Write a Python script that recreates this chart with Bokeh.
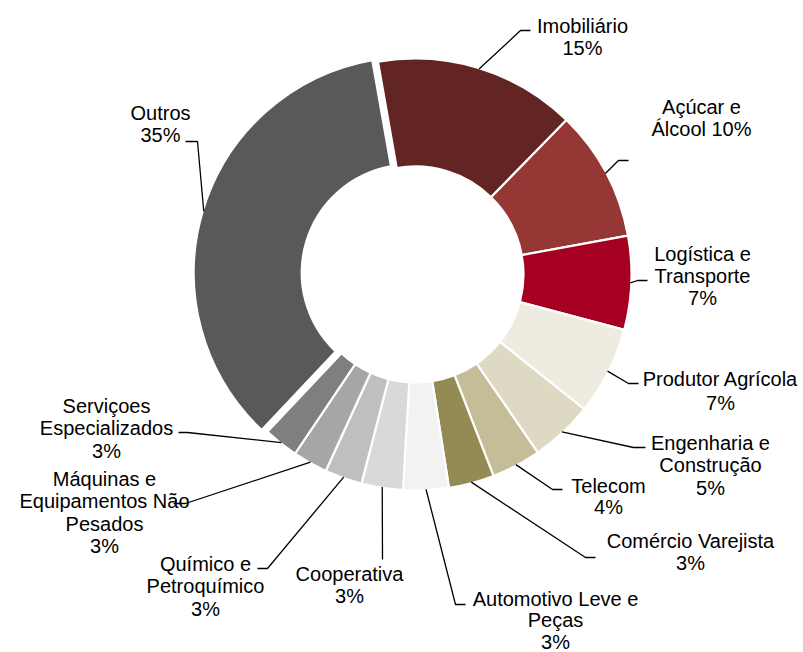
import math
from bokeh.plotting import figure
from bokeh.models import Range1d, ColumnDataSource
from bokeh.core.properties import value
from bokeh.embed import file_html
from bokeh.resources import INLINE

# ---------------- data ----------------
categories = [
    "Imobiliário",
    "Açúcar e\nÁlcool",
    "Logística e\nTransporte",
    "Produtor Agrícola",
    "Engenharia e\nConstrução",
    "Telecom",
    "Comércio Varejista",
    "Automotivo Leve e\nPeças",
    "Cooperativa",
    "Químico e\nPetroquímico",
    "Máquinas e\nEquipamentos Não\nPesados",
    "Serviçoes\nEspecializados",
    "Outros",
]
shares = [15.1, 9.8, 7.0, 6.6, 4.7, 3.7, 3.4, 3.4, 3.1, 2.8, 2.6, 2.6, 35.2]

# ---------------- style / layout ----------------
colors = ["#632523", "#953735", "#A50021", "#EEECE1", "#DDD9C3", "#C4BD97",
          "#948A54", "#F2F2F2", "#D9D9D9", "#BFBFBF", "#A6A6A6", "#7F7F7F",
          "#595959"]
explode = [0, 0, 0, 0, 0, 0, 0, 0, 0, 0, 0, 0, 6]
pct_inline = [False, True, False, False, False, False, False, False, False,
              False, False, False, False]
label_x = [582, 701, 702, 720, 710, 608, 690, 555, 349, 205, 104, 106, 160]
label_y0 = [25, 106, 253, 378, 442, 485, 540, 598, 573, 563, 478, 405, 112]
label_lh = [22, 22, 22, 24, 22.5, 21, 22, 21.5, 22, 22.5, 22.5, 22.5, 22]
elbow_x = [520, 618, 637, 628, 633, 552, 585, 455, 382, 267, 185, 187, 197]
elbow_y = [30, 160, 280, 383, 447, 489, 557, 604, 559, 568, 503, 432, 141]
tail_dx = [10, 10, 10, 10, 12, 10, 10, 10, 0, -10, -12, -9, -12]

CX, CY = 415, 274          # page pixels
R_OUT, R_IN = 216, 108
START = -10.0              # degrees clockwise from 12 o'clock
FONT = "Liberation Sans"
FS = "20px"

W, H = 803, 652

p = figure(width=W, height=H, output_backend="svg", toolbar_location=None,
           x_range=Range1d(0, W), y_range=Range1d(-H, 0),
           x_axis_location=None, y_axis_location=None, min_border=0)
p.grid.visible = False
p.outline_line_color = None
p.background_fill_color = "white"
p.border_fill_color = "white"

total = sum(shares)
xs_w, ys_w, starts, ends = [], [], [], []
mids = []
cum = 0.0
for s, ex in zip(shares, explode):
    a0 = START + 360.0 * cum / total
    cum += s
    a1 = START + 360.0 * cum / total
    am = (a0 + a1) / 2.0
    mids.append(am)
    ox = ex * math.sin(math.radians(am))
    oy = ex * math.cos(math.radians(am))
    xs_w.append(CX + ox)
    ys_w.append(-CY + oy)
    starts.append(math.radians(90 - a1))
    ends.append(math.radians(90 - a0))

wsrc = ColumnDataSource(dict(x=xs_w, y=ys_w, start=starts, end=ends,
                             color=colors, name=categories, share=shares))
p.annular_wedge(x="x", y="y", inner_radius=R_IN, outer_radius=R_OUT,
                start_angle="start", end_angle="end", fill_color="color",
                line_color="white", line_width=2.2, source=wsrc)

# leader lines
lxs, lys = [], []
for i, am in enumerate(mids):
    sx = xs_w[i] + (R_OUT - 1) * math.sin(math.radians(am))
    sy = ys_w[i] + (R_OUT - 1) * math.cos(math.radians(am))
    ex_, ey_ = elbow_x[i], -elbow_y[i]
    xs_l = [sx, ex_]
    ys_l = [sy, ey_]
    if tail_dx[i] != 0:
        xs_l.append(ex_ + tail_dx[i])
        ys_l.append(ey_)
    lxs.append(xs_l)
    lys.append(ys_l)
p.multi_line(xs=lxs, ys=lys, line_color="black", line_width=1.3)

# labels
tx, ty, tt = [], [], []
for i, name in enumerate(categories):
    pct = f"{round(shares[i])}%"
    lines = name.split("\n")
    if pct_inline[i]:
        lines[-1] = lines[-1] + " " + pct
    else:
        lines.append(pct)
    for k, ln in enumerate(lines):
        tx.append(label_x[i])
        ty.append(-(label_y0[i] + k * label_lh[i]))
        tt.append(ln)
tsrc = ColumnDataSource(dict(x=tx, y=ty, text=tt))
p.text(x="x", y="y", text="text", source=tsrc, text_align="center",
       text_baseline="middle", text_font=value(FONT), text_font_size=FS,
       text_color="#000000")

open("out.html", "w").write(file_html(p, INLINE))
